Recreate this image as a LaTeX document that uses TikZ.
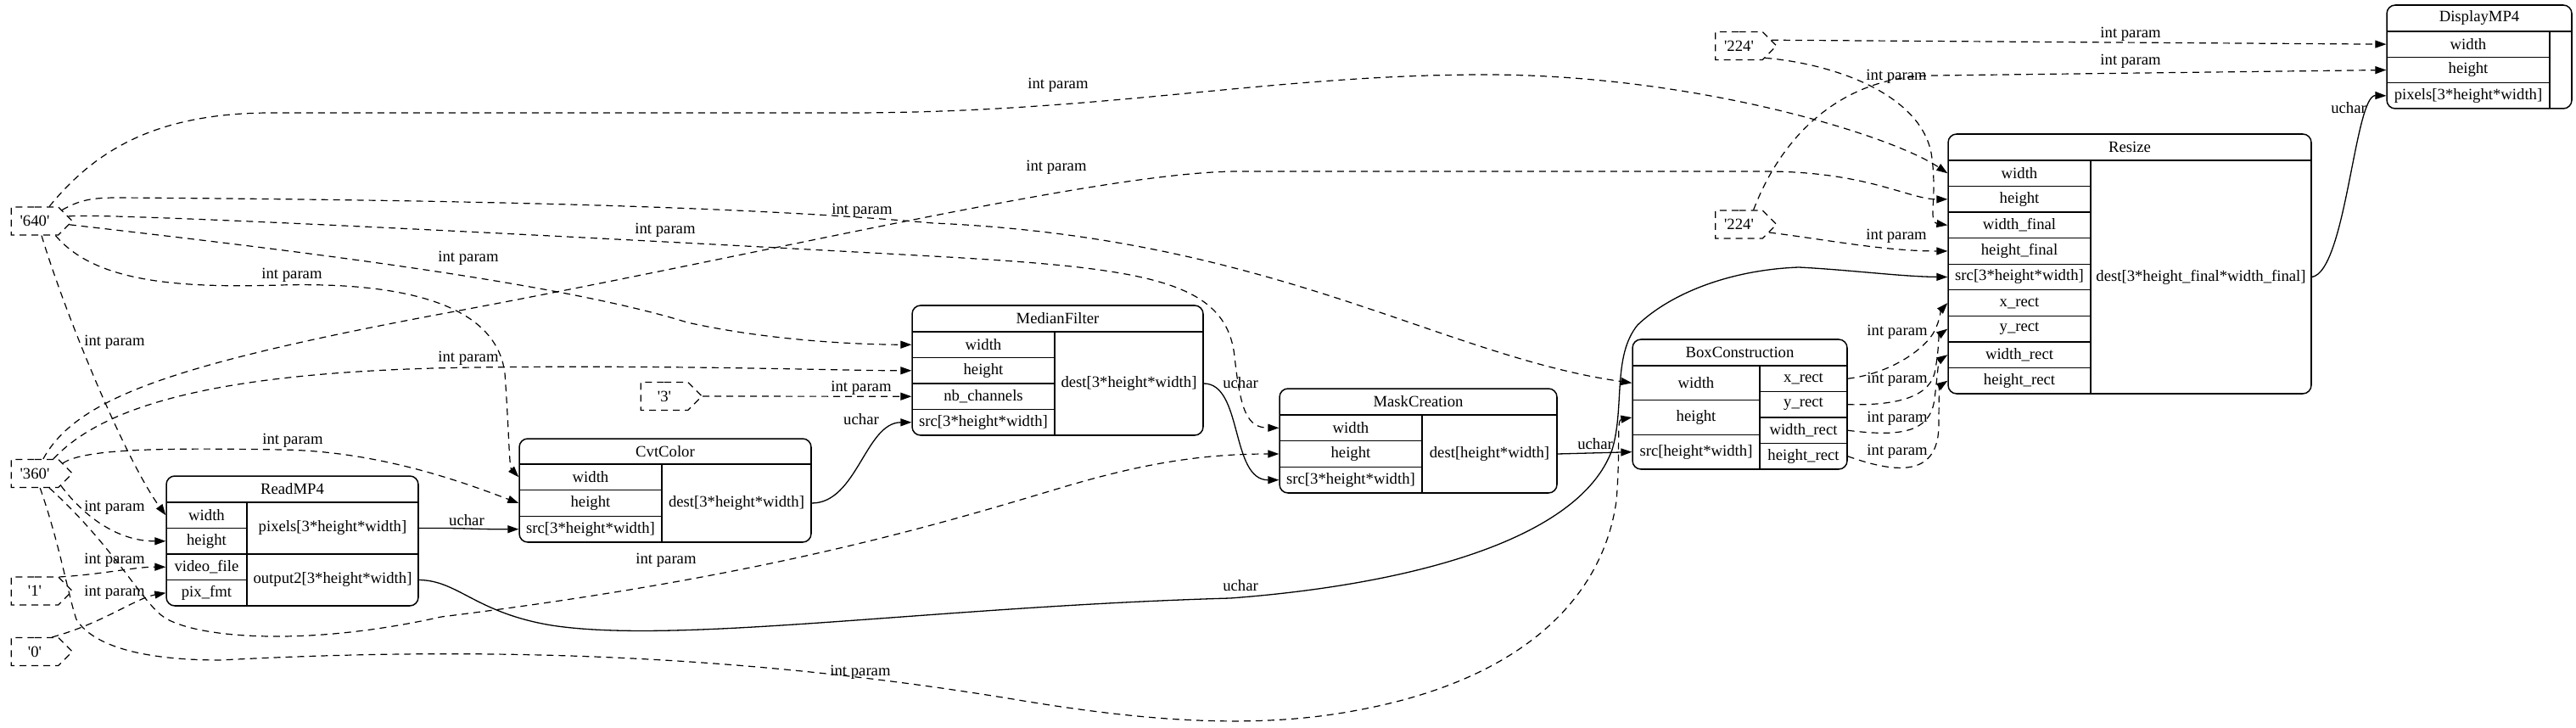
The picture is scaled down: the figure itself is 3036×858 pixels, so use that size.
\documentclass[tikz,border=0pt]{standalone}
\usepackage{fontspec}
\setmainfont{Liberation Serif}
\usetikzlibrary{arrows.meta,shapes.symbols}

\newcommand{\cval}[1]{\textquotesingle#1\textquotesingle}

\tikzset{
  cell/.style 2 args={draw, line width=1.3pt, inner sep=0pt, minimum width=#1pt, minimum height=#2pt},
  rec/.style 2 args={draw, line width=1.5pt, rounded corners=10pt, inner sep=0pt, minimum width=#1pt, minimum height=#2pt},
  dsh/.style={dash pattern=on 8pt off 6pt},
  cst/.style={draw, dsh, line width=1.2pt, signal, signal to=east, signal from=nowhere, minimum width=72pt, minimum height=33pt, inner sep=0pt},
  lbl/.style={inner sep=1pt},
  param/.style={->, dsh, line width=1.2pt},
  flow/.style={->, line width=1.3pt}
}

\begin{document}
\begin{tikzpicture}[x=1pt, y=-1pt, >={Triangle[length=13pt,width=9pt]}, font=\fontsize{18.7}{22}\selectfont]
\useasboundingbox (0,0) rectangle (3036,858);

% constants
\node[cst] (c640) at (41,260.5) {\cval{640}};
\node[cst] (c360) at (41,558) {\cval{360}};
\node[cst] (c1) at (41,696.5) {\cval{1}};
\node[cst] (c0) at (41,768) {\cval{0}};
\node[cst] (c3) at (783,467) {\cval{3}};
\node[cst] (c224a) at (2049.5,54) {\cval{224}};
\node[cst] (c224b) at (2049.5,264.5) {\cval{224}};

% ReadMP4
\begin{scope}
  \clip[rounded corners=10pt] (196,561) rectangle (493,714);
  \node[cell={297}{31}] (rd-t) at (344.5,576.5) {ReadMP4};
  \node[cell={95}{30.5}] (rd-width) at (243.5,607.25) {width};
  \node[cell={95}{30.5}] (rd-height) at (243.5,637.75) {height};
  \node[cell={95}{30.5}] (rd-video) at (243.5,668.25) {video\_file};
  \node[cell={95}{30.5}] (rd-fmt) at (243.5,698.75) {pix\_fmt};
  \node[cell={202}{61}] (rd-pix) at (392,622.5) {pixels[3*height*width]};
  \node[cell={202}{61}] (rd-out) at (392,683.5) {output2[3*height*width]};
\end{scope}
\node[rec={297}{153}] (rd) at (344.5,637.5) {};

% CvtColor
\begin{scope}
  \clip[rounded corners=10pt] (612,517) rectangle (956,639);
  \node[cell={344}{30}] (cc-t) at (784,532) {CvtColor};
  \node[cell={168}{30.667}] (cc-width) at (696,562.333) {width};
  \node[cell={168}{30.667}] (cc-height) at (696,593) {height};
  \node[cell={168}{30.667}] (cc-src) at (696,623.667) {src[3*height*width]};
  \node[cell={176}{92}] (cc-dest) at (868,593) {dest[3*height*width]};
\end{scope}
\node[rec={344}{122}] (cc) at (784,578) {};

% MedianFilter
\begin{scope}
  \clip[rounded corners=10pt] (1075,360) rectangle (1418,513);
  \node[cell={343}{31}] (mf-t) at (1246.5,375.5) {MedianFilter};
  \node[cell={168}{30.5}] (mf-width) at (1159,406.25) {width};
  \node[cell={168}{30.5}] (mf-height) at (1159,436.75) {height};
  \node[cell={168}{30.5}] (mf-nb) at (1159,467.25) {nb\_channels};
  \node[cell={168}{30.5}] (mf-src) at (1159,497.75) {src[3*height*width]};
  \node[cell={175}{122}] (mf-dest) at (1330.5,452) {dest[3*height*width]};
\end{scope}
\node[rec={343}{153}] (mf) at (1246.5,436.5) {};

% MaskCreation
\begin{scope}
  \clip[rounded corners=10pt] (1508,458) rectangle (1835,581);
  \node[cell={327}{31}] (mk-t) at (1671.5,473.5) {MaskCreation};
  \node[cell={168}{30.667}] (mk-width) at (1592,504.333) {width};
  \node[cell={168}{30.667}] (mk-height) at (1592,535) {height};
  \node[cell={168}{30.667}] (mk-src) at (1592,565.667) {src[3*height*width]};
  \node[cell={159}{92}] (mk-dest) at (1755.5,535) {dest[height*width]};
\end{scope}
\node[rec={327}{123}] (mk) at (1671.5,519.5) {};

% BoxConstruction
\begin{scope}
  \clip[rounded corners=10pt] (1924,400) rectangle (2177,553);
  \node[cell={253}{31}] (bx-t) at (2050.5,415.5) {BoxConstruction};
  \node[cell={150}{40.667}] (bx-width) at (1999,451.333) {width};
  \node[cell={150}{40.667}] (bx-height) at (1999,492) {height};
  \node[cell={150}{40.667}] (bx-src) at (1999,532.667) {src[height*width]};
  \node[cell={103}{30.5}] (bx-xr) at (2125.5,446.25) {x\_rect};
  \node[cell={103}{30.5}] (bx-yr) at (2125.5,476.75) {y\_rect};
  \node[cell={103}{30.5}] (bx-wr) at (2125.5,507.25) {width\_rect};
  \node[cell={103}{30.5}] (bx-hr) at (2125.5,537.75) {height\_rect};
\end{scope}
\node[rec={253}{153}] (bx) at (2050.5,476.5) {};

% Resize
\begin{scope}
  \clip[rounded corners=10pt] (2296,158) rectangle (2724,464);
  \node[cell={428}{31}] (rs-t) at (2510,173.5) {Resize};
  \node[cell={168}{30.556}] (rs-width) at (2380,204.278) {width};
  \node[cell={168}{30.556}] (rs-height) at (2380,234.833) {height};
  \node[cell={168}{30.556}] (rs-wfin) at (2380,265.389) {width\_final};
  \node[cell={168}{30.556}] (rs-hfin) at (2380,295.944) {height\_final};
  \node[cell={168}{30.556}] (rs-src) at (2380,326.5) {src[3*height*width]};
  \node[cell={168}{30.556}] (rs-xr) at (2380,357.056) {x\_rect};
  \node[cell={168}{30.556}] (rs-yr) at (2380,387.611) {y\_rect};
  \node[cell={168}{30.556}] (rs-wr) at (2380,418.167) {width\_rect};
  \node[cell={168}{30.556}] (rs-hr) at (2380,448.722) {height\_rect};
  \node[cell={260}{275}] (rs-dest) at (2594,326.5) {dest[3*height\_final*width\_final]};
\end{scope}
\node[rec={428}{306}] (rs) at (2510,311) {};

% DisplayMP4
\begin{scope}
  \clip[rounded corners=10pt] (2813,6) rectangle (3031,128);
  \node[cell={218}{31}] (dp-t) at (2922,21.5) {DisplayMP4};
  \node[cell={192}{30.333}] (dp-width) at (2909,52.167) {width};
  \node[cell={192}{30.333}] (dp-height) at (2909,82.5) {height};
  \node[cell={192}{30.333}] (dp-pix) at (2909,112.833) {pixels[3*height*width]};
  \node[cell={26}{91}] (dp-out) at (3018,82.5) {};
\end{scope}
\node[rec={218}{122}] (dp) at (2922,67) {};

% '640'
\draw[param] (c640.45) .. controls (110,180) and (180,133) .. (320,133) -- (1000,133) .. controls (1300,133) and (1500,88) .. (1750,88) .. controls (2000,88) and (2230,160) .. (rs-width.west) node[lbl] at (1247,100) {int param};
\draw[param] (c640.22) .. controls (95,235) and (110,233) .. (140,233) .. controls (600,236) and (900,245) .. (1100,263) .. controls (1500,280) and (1700,420) .. (bx-width.west) node[lbl] at (1016,248) {int param};
\draw[param] (c640.8) .. controls (120,250) and (700,280) .. (1100,302) .. controls (1350,316) and (1445,330) .. (1455,420) .. controls (1462,485) and (1470,504) .. (mk-width.west) node[lbl] at (784,271) {int param};
\draw[param] (c640.-6) .. controls (300,290) and (650,330) .. (810,380) .. controls (900,400) and (1000,406) .. (mf-width.west) node[lbl] at (552,304) {int param};
\draw[param] (c640.-35) .. controls (110,330) and (200,340) .. (330,336) .. controls (480,332) and (585,360) .. (595,440) .. controls (600,510) and (600,550) .. (cc-width.west) node[lbl] at (344,324) {int param};
\draw[param] (c640.-65) .. controls (80,380) and (150,545) .. (rd-width.west) node[lbl] at (135,403) {int param};

% '360'
\draw[param] (c360.60) .. controls (90,470) and (200,430) .. (520,370) .. controls (900,300) and (1300,202) .. (1460,202) -- (2080,202) .. controls (2200,202) and (2250,235) .. (rs-height.west) node[lbl] at (1245,197) {int param};
\draw[param] (c360.38) .. controls (120,480) and (250,437) .. (560,433) .. controls (800,430) and (1000,437) .. (mf-height.west) node[lbl] at (552,422) {int param};
\draw[param] (c360.20) .. controls (100,528) and (200,528) .. (333,530) .. controls (450,532) and (550,570) .. (cc-height.west) node[lbl] at (345,519) {int param};
\draw[param] (c360.-25) .. controls (100,610) and (140,638) .. (rd-height.west) node[lbl] at (135,598) {int param};
\draw[param] (c360.-45) .. controls (130,640) and (165,705) .. (190,725) .. controls (220,750) and (350,765) .. (520,727) .. controls (900,680) and (1100,620) .. (1250,575) .. controls (1350,545) and (1420,535) .. (mk-height.west) node[lbl] at (785,660) {int param};
\draw[param] (c360.-70) .. controls (70,640) and (80,700) .. (90,730) .. controls (110,762) and (170,778) .. (260,778) .. controls (600,760) and (900,775) .. (1200,825) .. controls (1350,850) and (1480,860) .. (1600,837) .. controls (1800,800) and (1890,700) .. (1905,590) .. controls (1910,530) and (1905,495) .. (bx-height.west) node[lbl] at (1014,792) {int param};

% '1', '0', '3'
\draw[param] (c1.30) .. controls (120,677) and (160,668) .. (rd-video.west) node[lbl] at (135,660) {int param};
\draw[param] (c0.40) .. controls (120,735) and (160,705) .. (rd-fmt.west) node[lbl] at (135,698) {int param};
\draw[param] (c3.east) -- (mf-nb.west) node[lbl] at (1015,457) {int param};

% '224'
\draw[param] (c224a.10) -- (dp-width.west) node[lbl] at (2511,40) {int param};
\draw[param] (c224a.-25) .. controls (2160,75) and (2262,110) .. (2276,180) .. controls (2284,230) and (2272,262) .. (rs-wfin.west) node[lbl] at (2235,90) {int param};
\draw[param] (c224b.45) .. controls (2100,160) and (2170,89) .. (2280,89) -- (dp-height.west) node[lbl] at (2511,72) {int param};
\draw[param] (c224b.-15) .. controls (2150,282) and (2220,296) .. (rs-hfin.west) node[lbl] at (2235,278) {int param};

% BoxConstruction -> Resize
\draw[param] (bx-xr.east) .. controls (2230,440) and (2270,410) .. (2280,390) .. controls (2286,378) and (2288,365) .. (rs-xr.west) node[lbl] at (2236,391) {int param};
\draw[param] (bx-yr.east) .. controls (2230,478) and (2272,470) .. (2280,440) .. controls (2285,415) and (2285,395) .. (rs-yr.west) node[lbl] at (2236,447) {int param};
\draw[param] (bx-wr.east) .. controls (2240,515) and (2275,510) .. (2280,470) .. controls (2283,445) and (2285,425) .. (rs-wr.west) node[lbl] at (2236,493) {int param};
\draw[param] (bx-hr.east) .. controls (2240,560) and (2285,560) .. (2285,500) .. controls (2285,470) and (2286,455) .. (rs-hr.west) node[lbl] at (2236,532) {int param};

% uchar
\draw[flow] (rd-pix.east) .. controls (550,622) and (560,624) .. (cc-src.west) node[lbl] at (550,613) {uchar};
\draw[flow] (cc-dest.east) .. controls (1010,593) and (1020,498) .. (mf-src.west) node[lbl] at (1015,494) {uchar};
\draw[flow] (mf-dest.east) .. controls (1465,452) and (1450,566) .. (mk-src.west) node[lbl] at (1462,451) {uchar};
\draw[flow] (mk-dest.east) -- (bx-src.west) node[lbl] at (1880,523) {uchar};
\draw[flow] (rd-out.east) .. controls (540,684) and (560,722) .. (650,737) .. controls (800,760) and (1100,715) .. (1450,705) .. controls (1650,690) and (1860,640) .. (1900,530) .. controls (1915,480) and (1900,420) .. (1930,383) .. controls (1970,345) and (2040,318) .. (2120,315) .. controls (2180,318) and (2240,326) .. (rs-src.west) node[lbl] at (1462,690) {uchar};
\draw[flow] (rs-dest.east) .. controls (2765,320) and (2775,112) .. (dp-pix.west) node[lbl] at (2768,127) {uchar};
\end{tikzpicture}
\end{document}
